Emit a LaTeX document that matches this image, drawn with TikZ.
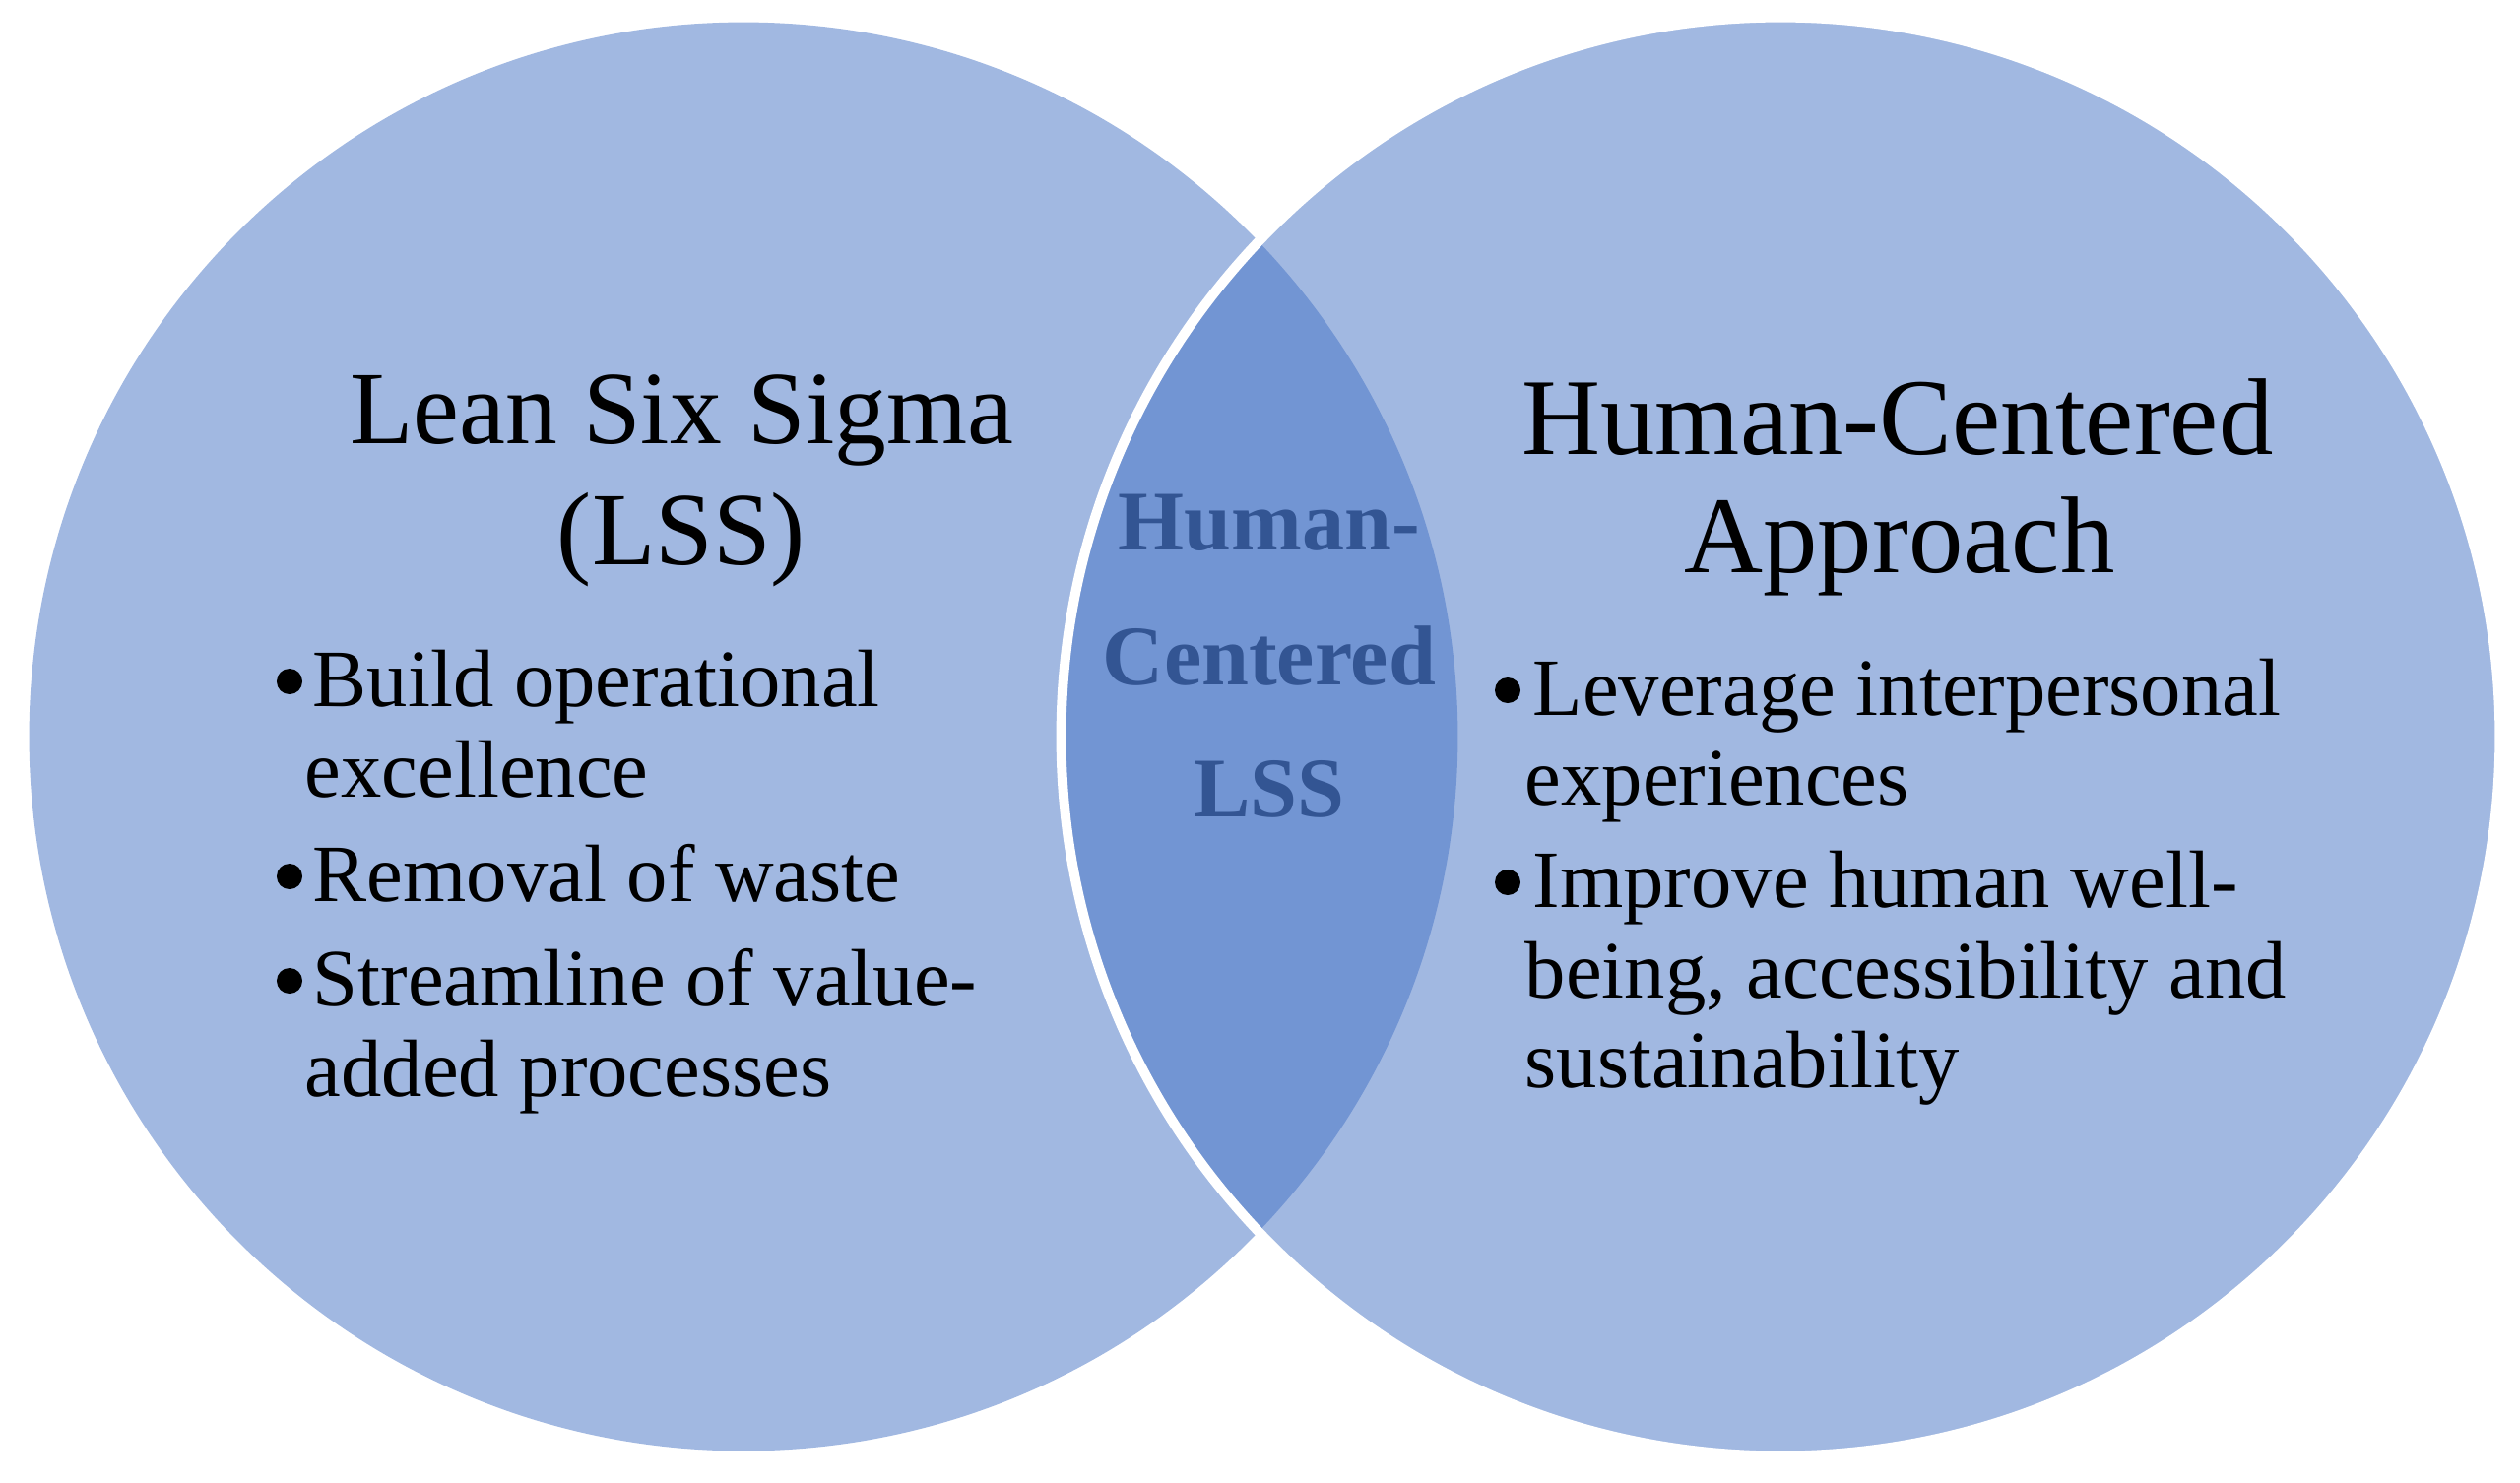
\documentclass[tikz,border=0pt]{standalone}
\usepackage{fontspec}
\setmainfont{Liberation Serif}

\definecolor{vennfill}{HTML}{4472C4}
\definecolor{coreblue}{HTML}{335593}

\tikzset{
  venn/.style={fill=vennfill, fill opacity=0.5},
  title/.style={font=\fontsize{30}{34}\selectfont, anchor=base, inner sep=0pt},
  itemtext/.style={font=\fontsize{23.5}{27}\selectfont, anchor=base west, inner sep=0pt},
  itemdot/.style={circle, fill=black, inner sep=0pt, minimum size=0.26cm},
  coretxt/.style={font=\fontsize{24.5}{29}\selectfont\bfseries, text=coreblue, anchor=base, inner sep=0pt}
}

\begin{document}
\begin{tikzpicture}[x=0.01cm, y=-0.01cm]
\useasboundingbox (0,0) rectangle (2559,1506);
% the two sets
\fill[venn] (755,748) circle (7.25cm);
\filldraw[venn, draw=white, line width=0.1cm] (1808,748) circle (7.3cm);

% headings
\node[title] (lss1) at (692,450) {Lean Six Sigma};
\node[title] (lss2) at (692,573) {(LSS)};
\node[title, font=\fontsize{31.5}{34}\selectfont] (hca1) at (1927,461) {Human-Centered};
\node[title, font=\fontsize{31.5}{34}\selectfont] (hca2) at (1929,581) {Approach};

% overlap
\foreach \t/\y [count=\i] in {Human-/558, Centered/695, LSS/829}
  \node[coretxt] (core\i) at (1289,\y) {\t};

% bullet lists
\foreach \x/\y [count=\i] in {294/692, 294/890, 294/996, 1531/701, 1531/896}
  \node[itemdot] (dot\i) at (\x,\y) {};
\foreach \x/\y/\t [count=\i] in {317/717/Build operational, 309/809/excellence,
    317/915/Removal of waste, 317/1021/Streamline of value-, 309/1113/added processes}
  \node[itemtext] (left\i) at (\x,\y) {\t};
\foreach \x/\y/\t [count=\i] in {1556/726/Leverage interpersonal, 1548/817/experiences,
    1556/921/Improve human well-, 1548/1013/{being, accessibility and}, 1548/1104/sustainability}
  \node[itemtext] (right\i) at (\x,\y) {\t};
\end{tikzpicture}
\end{document}
